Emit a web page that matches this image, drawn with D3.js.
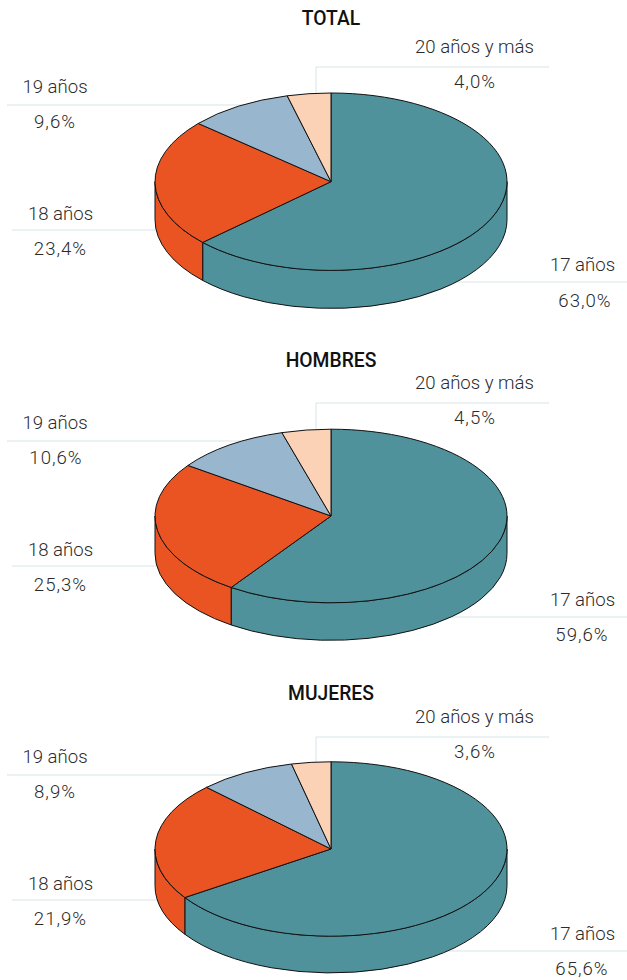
<!DOCTYPE html>
<html>
<head>
<meta charset="utf-8">
<script src="https://cdn.jsdelivr.net/npm/d3@7"></script>
<style>
    html, body { margin: 0; padding: 0; background: #fff; }
    svg { display: block; }
    text { font-family: Roboto, "Liberation Sans", sans-serif; fill: #2b2b2b; }
</style>
</head>
<body>
<div id="chart"></div>
<script>
const categories = ['17 años', '18 años', '19 años', '20 años y más']
const panelNames = ['TOTAL', 'HOMBRES', 'MUJERES']
const totalValues = [63.0, 23.4, 9.6, 4.0]
const hombresValues = [59.6, 25.3, 10.6, 4.5]
const mujeresValues = [65.6, 21.9, 8.9, 3.6]
const allValues = [totalValues, hombresValues, mujeresValues]
const colors = ['#4f929b', '#ea5423', '#98b6ce', '#fbd2b6']

const width = 627
const height = 980
const rx = 176
const cx = 331

// the three pies are not quite the same size in the original
const pieY = [181.7, 516, 849]
const pieRy = [88.7, 86.8, 87.2]
const pieDepth = [38, 37.5, 36.7]
const titleY = [18, 360, 693]
// shift of the label rows from the first panel
const rowShift = [0, 336, 670]

// rows as placed in the first panel
const rows = [
    { x: 582.5, vx: [585, 582, 582], label: 264, line: 282, value: 300, x1: 440, x2: 627, nudge: [0, -1, -1], vnudge: [0, -2, -2] },
    { x: 60.5, vx: [60.5, 60.5, 60.5], label: 213, line: 230, value: 248, x1: 12, x2: 170, nudge: [0, 0, 0], vnudge: [0, 0, 0] },
    { x: 55, vx: [55, 56, 55], label: 86, line: 105, value: 121, x1: 7, x2: 250, nudge: [0, 0, 0], vnudge: [0, 0, 0] },
    { x: 474.5, vx: [475, 475, 475], label: 46, line: 67, value: 81, x1: 316, x2: 549, nudge: [0, 0, 0], vnudge: [0, 0, 0] }
]

const formatValue = d => d.toFixed(1).replace('.', ',') + '%'

const svg = d3.select('#chart')
    .append('svg')
    .attr('width', width)
    .attr('height', height)

const pie = d3.pie().sort(null).value(d => d)
const arc = d3.arc().innerRadius(0).outerRadius(rx)

allValues.forEach((values, p) => {
    const y0 = pieY[p]
    const ry = pieRy[p]
    const depth = pieDepth[p]
    const shift = rowShift[p]
    const g = svg.append('g').attr('class', 'panel')
    const arcs = pie(values)

    // point on the rim, angle as in d3.pie (0 at the top, clockwise)
    const rim = (angle, dy) => [Math.sin(angle) * rx, -Math.cos(angle) * ry + dy]

    const wallPath = d => {
        const a0 = Math.max(d.startAngle, Math.PI / 2)
        const a1 = Math.min(d.endAngle, Math.PI * 1.5)
        if (a0 >= a1) return null
        const t0 = rim(a0, 0), t1 = rim(a1, 0), b0 = rim(a0, depth), b1 = rim(a1, depth)
        return `M${t0}A${rx},${ry} 0 0 1 ${t1}L${b1}A${rx},${ry} 0 0 0 ${b0}Z`
    }

    // leader lines go first so the pie covers their inner ends
    g.selectAll('line.leader')
        .data(rows)
        .join('line')
        .attr('class', 'leader')
        .attr('x1', d => d.x1)
        .attr('x2', d => d.x2)
        .attr('y1', d => d.line + shift + d.nudge[p])
        .attr('y2', d => d.line + shift + d.nudge[p])
        .style('stroke', '#d9e4e8')
        .style('stroke-width', '1px')

    g.append('line')
        .attr('x1', 316).attr('x2', 316)
        .attr('y1', rows[3].line + shift).attr('y2', y0 - 80)
        .style('stroke', '#d9e4e8')
        .style('stroke-width', '1px')

    const pieG = g.append('g').attr('transform', `translate(${cx},${y0})`)

    pieG.selectAll('path.wall')
        .data(arcs.filter(d => wallPath(d)))
        .join('path')
        .attr('class', 'wall')
        .attr('d', wallPath)
        .style('fill', d => colors[d.index])
        .style('stroke', '#111')
        .style('stroke-width', '1px')
        .style('stroke-linejoin', 'round')

    pieG.append('g')
        .attr('transform', `scale(1,${ry / rx})`)
        .selectAll('path.slice')
        .data(arcs)
        .join('path')
        .attr('class', 'slice')
        .attr('d', arc)
        .attr('vector-effect', 'non-scaling-stroke')
        .style('fill', d => colors[d.index])
        .style('stroke', '#111')
        .style('stroke-width', '1px')
        .style('stroke-linejoin', 'round')

    g.append('text')
        .attr('x', cx)
        .attr('y', titleY[p])
        .attr('dy', '0.35em')
        .attr('text-anchor', 'middle')
        .style('font-size', '19.3px')
        .style('font-weight', 500)
        .style('fill', '#111')
        .text(panelNames[p])

    g.selectAll('text.cat')
        .data(categories)
        .join('text')
        .attr('class', 'cat')
        .attr('x', (d, i) => rows[i].x)
        .attr('y', (d, i) => rows[i].label + shift + rows[i].nudge[p])
        .attr('dy', '0.35em')
        .attr('text-anchor', 'middle')
        .style('font-size', '18.6px')
        .style('font-weight', 300)
        .text(d => d)

    g.selectAll('text.val')
        .data(values)
        .join('text')
        .attr('class', 'val')
        .attr('x', (d, i) => rows[i].vx[p])
        .attr('y', (d, i) => rows[i].value + shift + rows[i].vnudge[p])
        .attr('dy', '0.35em')
        .attr('text-anchor', 'middle')
        .style('font-size', '18.6px')
        .style('font-weight', 300)
        .style('letter-spacing', '1px')
        .text(formatValue)
})
</script>
</body>
</html>
